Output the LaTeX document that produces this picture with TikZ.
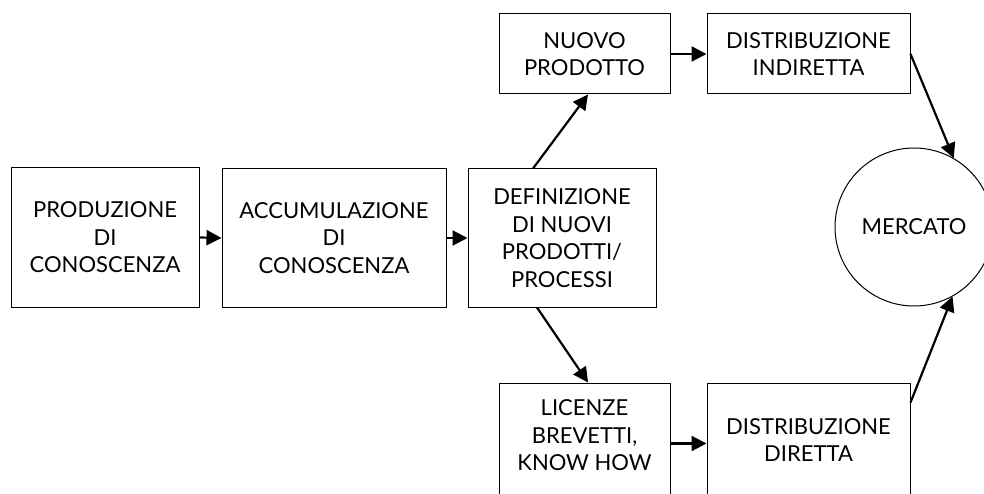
\documentclass[tikz,border=0pt]{standalone}
\usepackage{fontspec}
\setmainfont{Lato}
\usetikzlibrary{arrows.meta,calc}
\begin{document}
\begin{tikzpicture}[x=1pt,y=-1pt,
  label font/.style={font=\fontsize{22}{27.5}\selectfont},
  box/.style={draw, line width=1pt, inner sep=0pt, align=center, label font},
  txt/.style={inner sep=0pt, align=center, label font},
  market/.style={draw, circle, line width=1pt, minimum size=158pt, inner sep=0pt, label font},
  flow/.style={line width=2.2pt, -{Triangle[length=15pt,width=15pt]}}]
\clip (0,0) rectangle (984,494);

% knowledge chain
\node[box, minimum width=188pt, minimum height=139pt] (prod) at (105,237.5) {PRODUZIONE\\DI\\CONOSCENZA};
\node[box, minimum width=224pt, minimum height=138pt] (accu) at (334,238) {ACCUMULAZIONE\\DI\\CONOSCENZA};
\node[box, minimum width=188pt, minimum height=138pt] (def) at (562,238) {DEFINIZIONE\\DI NUOVI\\PRODOTTI/\\PROCESSI};

% upper branch
\node[box, minimum width=171pt, minimum height=80pt] (nuovo) at (584.5,54) {NUOVO\\PRODOTTO};
\node[box, minimum width=203pt, minimum height=80pt] (indir) at (808.5,54) {DISTRIBUZIONE\\INDIRETTA};

% lower branch (boxes run past the bottom edge)
\node[box, minimum width=171pt, minimum height=139pt] (lic) at (584.5,452.5) {};
\node[txt] (lictext) at (584.5,435.5) {LICENZE\\BREVETTI,\\KNOW HOW};
\node[box, minimum width=203pt, minimum height=139pt] (dir) at (808.5,452.5) {};
\node[txt] (dirtext) at (808.5,440) {DISTRIBUZIONE\\DIRETTA};

% market
\node[market] (mercato) at (914,227) {MERCATO};

% connectors
\draw[flow] (prod.east) -- (accu.west);
\draw[flow] (accu.east) -- (def.west);
\draw[flow] ($(def.north)+(-29,0)$) -- ($(nuovo.south)+(3.5,0)$);
\draw[flow] ($(def.south)+(-25,0)$) -- ($(lic.north)+(3.5,0)$);
\draw[flow] (nuovo.east) -- (indir.west);
\draw[flow] ($(lic.north east)+(0,61)$) -- ($(dir.north west)+(0,61)$);
\draw[flow] (indir.east) -- (mercato.60);
\draw[flow] ($(dir.north east)+(0,20)$) -- (mercato.-61);
\end{tikzpicture}
\end{document}
